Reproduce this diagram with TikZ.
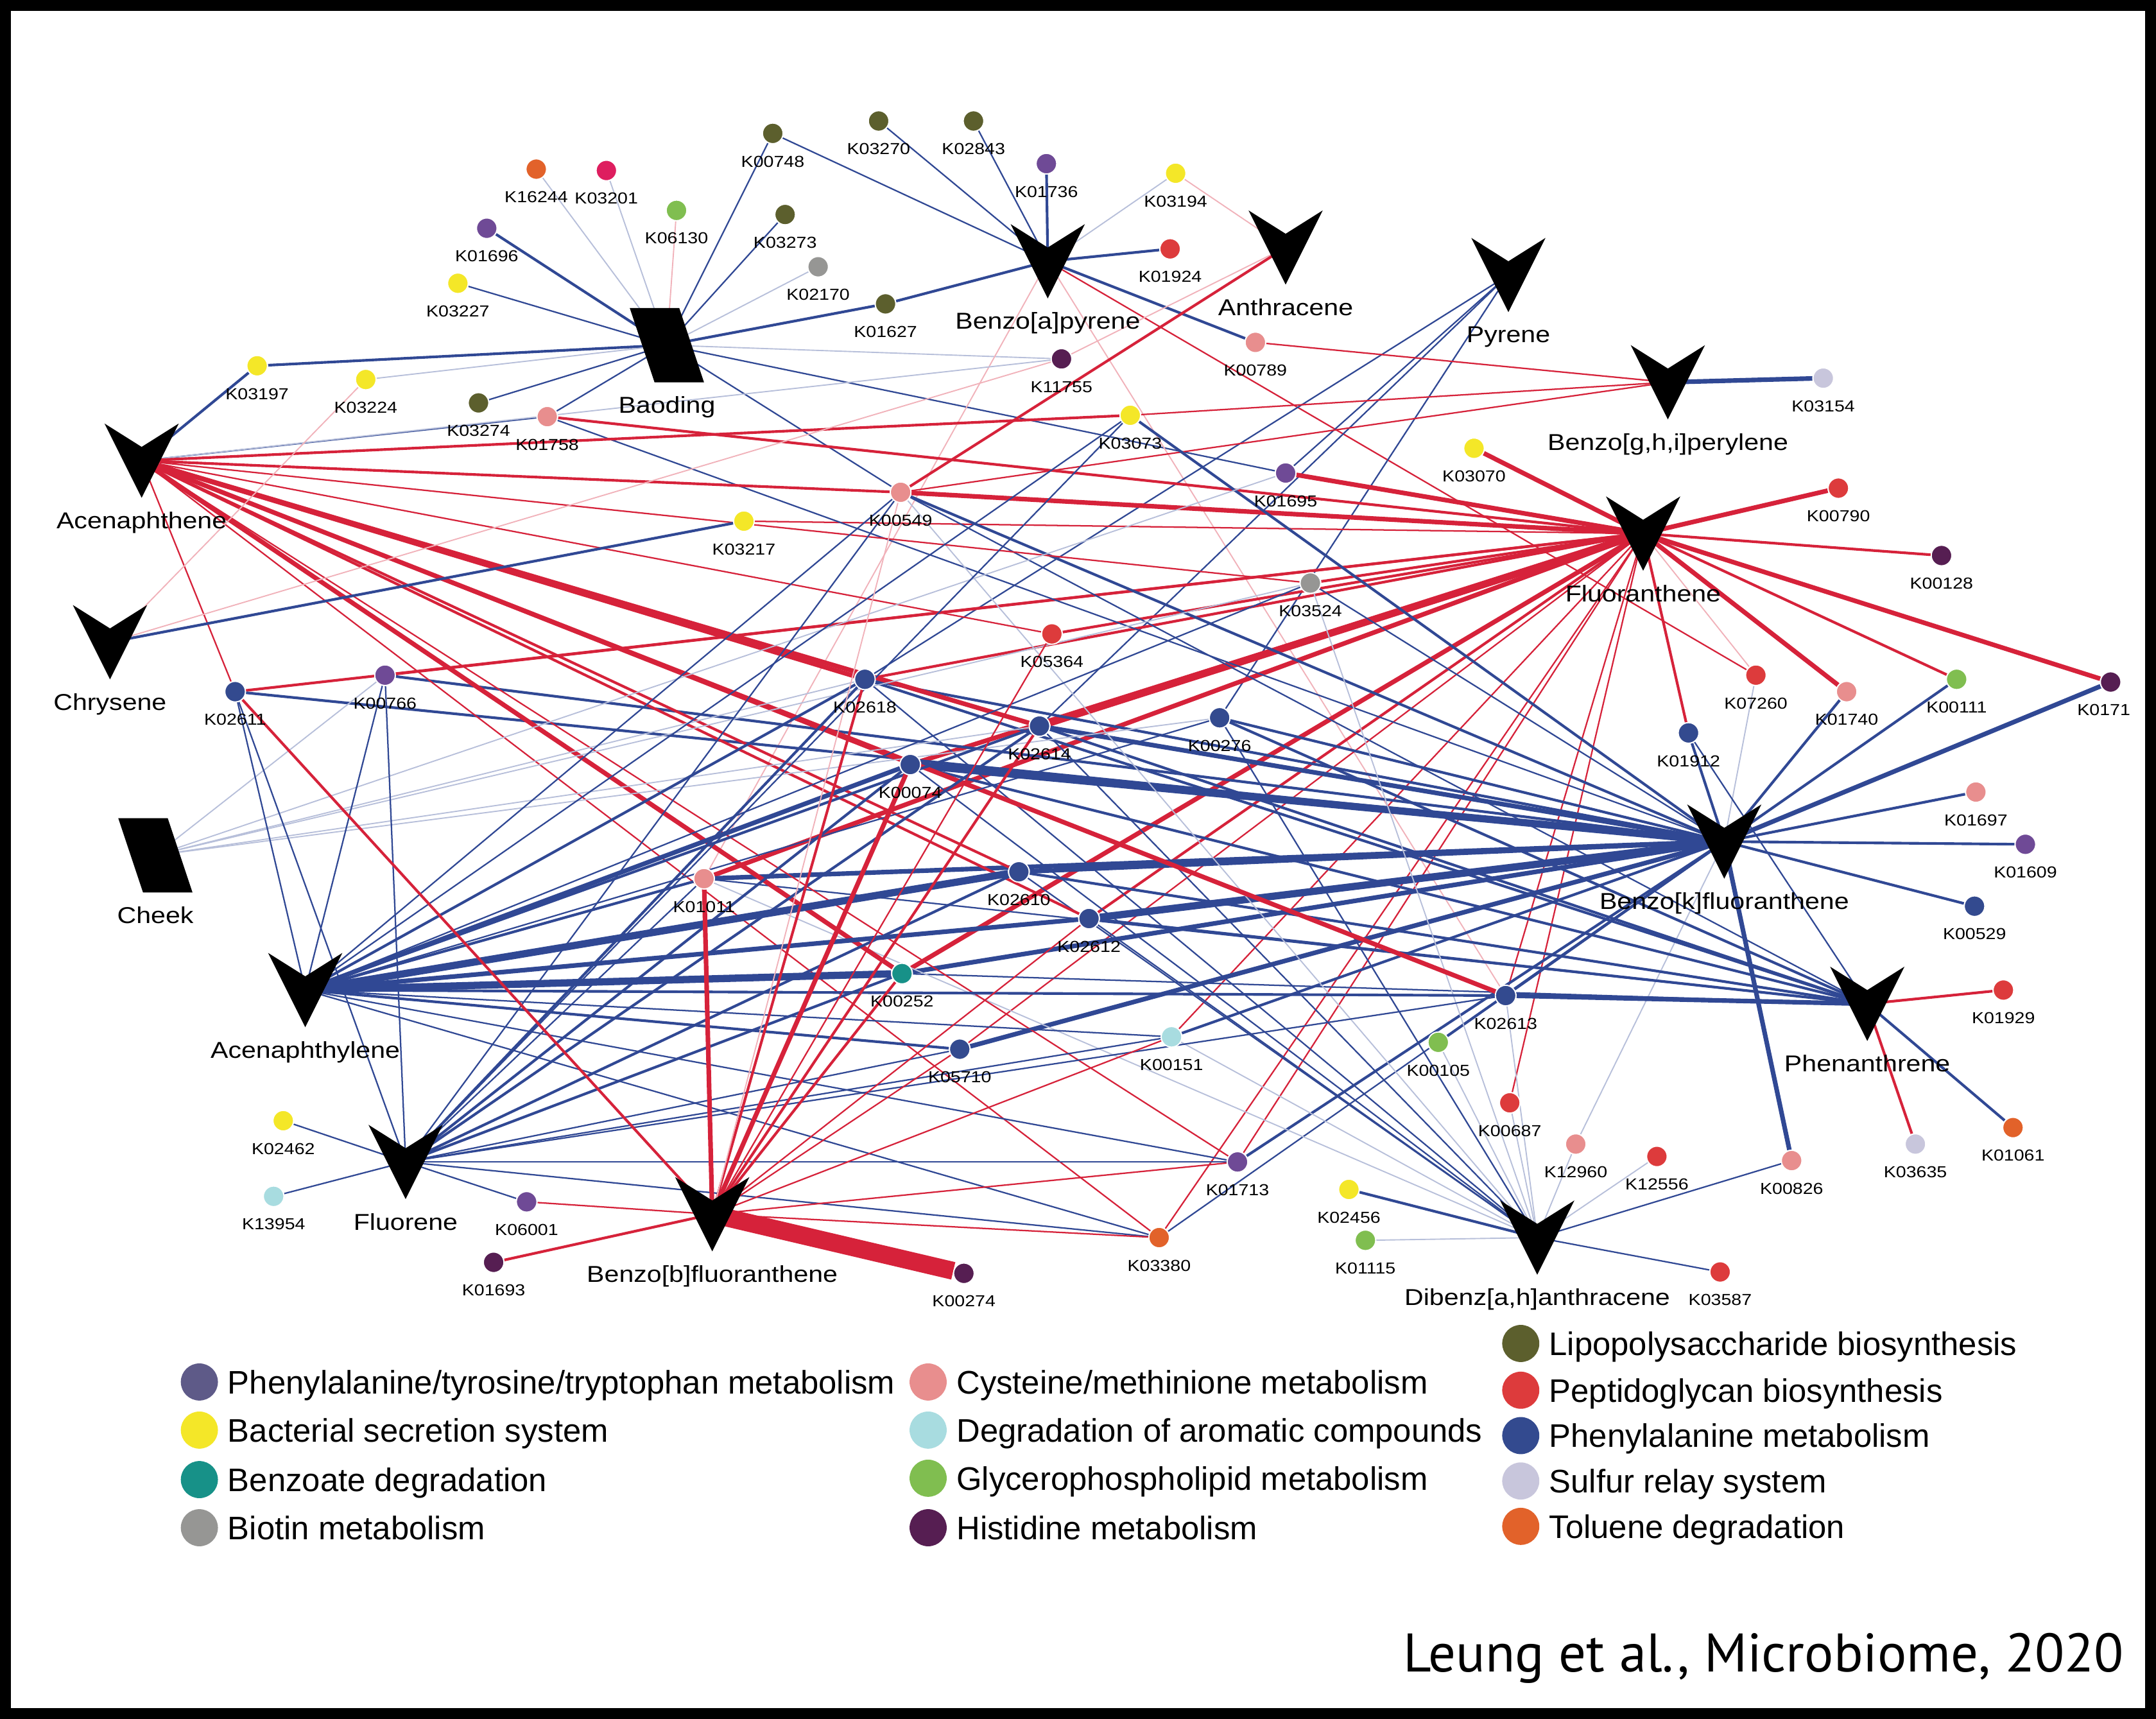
\documentclass[tikz,border=0pt]{standalone}
\usepackage{fontspec}
\setmainfont{Liberation Sans}
\newfontfamily\widefont[FakeStretch=1.15]{Liberation Sans}
\newfontfamily\citefont{PT Sans}
\usetikzlibrary{positioning,calc}
\pgfdeclarelayer{background}
\pgfsetlayers{background,main}

\definecolor{edgered}{RGB}{214,34,58}
\definecolor{edgeblue}{RGB}{48,72,148}
\definecolor{ppcol}{RGB}{111,74,150}
\definecolor{ppleg}{RGB}{94,90,136}
\definecolor{bsscol}{RGB}{244,231,40}
\definecolor{bencol}{RGB}{23,145,136}
\definecolor{biocol}{RGB}{150,150,148}
\definecolor{cyscol}{RGB}{232,142,142}
\definecolor{arocol}{RGB}{168,220,224}
\definecolor{glycol}{RGB}{128,190,80}
\definecolor{hiscol}{RGB}{86,30,82}
\definecolor{lpscol}{RGB}{92,95,45}
\definecolor{pepcol}{RGB}{221,59,60}
\definecolor{phecol}{RGB}{51,74,143}
\definecolor{sulcol}{RGB}{200,198,220}
\definecolor{tolcol}{RGB}{226,98,42}
\definecolor{magcol}{RGB}{222,30,95}

\tikzset{
  ko/.style={circle, fill=#1, draw=white, line width=0.5pt, minimum size=0.3cm, inner sep=0pt},
  klab/.style={font=\widefont\fontsize{6.6}{7}\selectfont, inner sep=0pt, yshift=-0.16cm},
  hublab/.style={font=\widefont\fontsize{9.5}{11}\selectfont, inner sep=0pt},
  legdot/.style={circle, fill=#1, minimum size=0.54cm, inner sep=0pt},
  legtext/.style={font=\fontsize{13.5}{16}\selectfont, inner sep=0pt, text depth=0pt},
  hubmark/.pic={\fill (-27,-27) -- (0,-10) -- (27,-27) -- (0,27) -- cycle;},
  sitemark/.pic={\fill (-27,-27) -- (9,-27) -- (27,27) -- (-9,27) -- cycle;},
  rf/.style={draw=edgered!35, line width=0.5pt},
  rt/.style={draw=edgered, line width=0.6pt},
  rm/.style={draw=edgered, line width=1.1pt},
  rk/.style={draw=edgered, line width=1.9pt},
  rx/.style={draw=edgered, line width=3pt},
  rh/.style={draw=edgered, line width=7.4pt},
  bf/.style={draw=edgeblue!35, line width=0.5pt},
  bt/.style={draw=edgeblue, line width=0.6pt},
  bm/.style={draw=edgeblue, line width=1.1pt},
  bk/.style={draw=edgeblue, line width=1.9pt},
  bx/.style={draw=edgeblue, line width=3pt}
}

\begin{document}
\begin{tikzpicture}[x=0.02cm, y=-0.02cm]
  \useasboundingbox (0,0) rectangle (1568,1250);

  % KO nodes
  \foreach \n/\x/\y/\c/\t in {
    k16244/390/123/tolcol/K16244, k03201/441/124/magcol/K03201, k06130/492/153/glycol/K06130,
    k01696/354/166/ppcol/K01696, k03227/333/206/bsscol/K03227, k00748/562/97/lpscol/K00748,
    k03270/639/88/lpscol/K03270, k02843/708/88/lpscol/K02843, k01736/761/119/ppcol/K01736,
    k03194/855/126/bsscol/K03194, k03273/571/156/lpscol/K03273, k02170/595/194/biocol/K02170,
    k01627/644/221/lpscol/K01627, k01924/851/181/pepcol/K01924, k00789/913/249/cyscol/K00789,
    k11755/772/261/hiscol/K11755, k03197/187/266/bsscol/K03197, k03224/266/276/bsscol/K03224,
    k03274/348/293/lpscol/K03274, k01758/398/303/cyscol/K01758, k03073/822/302/bsscol/K03073,
    k03154/1326/275/sulcol/K03154, k03070/1072/326/bsscol/K03070, k01695/935/344/ppcol/K01695,
    k00549/655/358/cyscol/K00549, k00790/1337/355/pepcol/K00790, k03217/541/379/bsscol/K03217,
    k00128/1412/404/hiscol/K00128, k03524/953/424/biocol/K03524, k05364/765/461/pepcol/K05364,
    k02618/629/494/phecol/K02618, k02611/171/503/phecol/K02611, k00766/280/491/ppcol/K00766,
    k02614/756/528/phecol/K02614, k00276/887/522/phecol/K00276, k00074/662/556/phecol/K00074,
    k07260/1277/491/pepcol/K07260, k01740/1343/503/cyscol/K01740, k00111/1423/494/glycol/K00111,
    k01912/1228/533/phecol/K01912, k01697/1437/576/cyscol/K01697, k01609/1473/614/ppcol/K01609,
    k00529/1436/659/phecol/K00529, k01011/512/639/cyscol/K01011, k02610/741/634/phecol/K02610,
    k02612/792/668/phecol/K02612, k00252/656/708/bencol/K00252, k02613/1095/724/phecol/K02613,
    k01929/1457/720/pepcol/K01929, k05710/698/763/phecol/K05710, k00151/852/754/arocol/K00151,
    k00105/1046/758/glycol/K00105, k00687/1098/802/pepcol/K00687, k12960/1146/832/cyscol/K12960,
    k12556/1205/841/pepcol/K12556, k00826/1303/844/cyscol/K00826, k03635/1393/832/sulcol/K03635,
    k01061/1464/820/tolcol/K01061, k02462/206/815/bsscol/K02462, k13954/199/870/arocol/K13954,
    k06001/383/874/ppcol/K06001, k01693/359/918/hiscol/K01693, k00274/701/926/hiscol/K00274,
    k01713/900/845/ppcol/K01713, k03380/843/900/tolcol/K03380, k02456/981/865/bsscol/K02456,
    k01115/993/902/glycol/K01115, k03587/1251/925/pepcol/K03587}
    \node[ko=\c, label={[klab]below:\t}] (\n) at (\x,\y) {};
  \node[ko=hiscol, label={[klab, xshift=-0.1cm]below:K0171}] (k0171) at (1535,496) {};

  % compounds and sites
  \foreach \n/\x/\y in {bap/762/190, ant/935/180, pyr/1097/200, bghi/1213/278, flu/1195/388,
    acn/103/335, chr/80/467, acy/222/720, fle/295/845, bbf/518/883, bkf/1254/612,
    phn/1358/730, dba/1118/900, bao/485/251, chk/113/622}
    \coordinate (\n) at (\x,\y);
  \foreach \n in {bap,ant,pyr,bghi,flu,acn,chr,acy,fle,bbf,bkf,phn,dba}
    \pic at (\n) {hubmark};
  \pic at (bao) {sitemark};
  \pic at (chk) {sitemark};

  \node[hublab, below=0.74cm of bap] (bapl) {Benzo[a]pyrene};
  \node[hublab, below=0.74cm of ant] (antl) {Anthracene};
  \node[hublab, below=0.74cm of pyr] (pyrl) {Pyrene};
  \node[hublab, below=0.74cm of bghi] (bghil) {Benzo[g,h,i]perylene};
  \node[hublab, below=0.74cm of flu] (flul) {Fluoranthene};
  \node[hublab, below=0.74cm of acn] (acnl) {Acenaphthene};
  \node[hublab, below=0.74cm of chr] (chrl) {Chrysene};
  \node[hublab, below=0.74cm of acy] (acyl) {Acenaphthylene};
  \node[hublab, below=0.74cm of fle] (flel) {Fluorene};
  \node[hublab, below=0.74cm of bbf] (bbfl) {Benzo[b]fluoranthene};
  \node[hublab, below=0.74cm of bkf] (bkfl) {Benzo[k]fluoranthene};
  \node[hublab, below=0.74cm of phn] (phnl) {Phenanthrene};
  \node[hublab, below=0.74cm of dba] (dbal) {Dibenz[a,h]anthracene};
  \node[hublab, below=0.74cm of bao] (baol) {Baoding};
  \node[hublab, below=0.74cm of chk] (chkl) {Cheek};

  % connectors
  \begin{pgfonlayer}{background}
    \fill[white] (0,0) rectangle (1568,1250);
    \foreach \a/\b/\s in {
      bao/k16244/bf, bao/k03201/bf, bao/k06130/rf, bao/k01696/bm, bao/k03227/bt, bao/k00748/bt,
      bao/k03273/bt, bao/k02170/bf, bao/k01627/bm, bao/k03197/bm, bao/k03224/bf, bao/k03274/bt,
      bao/k01758/bt, bao/k11755/bf, bao/k01695/bt, bao/k00549/bt,
      bap/k00748/bt, bap/k03270/bt, bap/k02843/bt, bap/k01736/bm, bap/k03194/bf, bap/k01627/bm,
      bap/k01924/bm, bap/k00789/bm, bap/k01011/rf, bap/k07260/rt, bap/k02613/rf,
      ant/k03194/rf, ant/k11755/rf, ant/k00549/rm,
      pyr/k01695/bt, pyr/k00276/bt, pyr/k02618/bt, pyr/k02614/bt,
      bghi/k03154/bk, bghi/k00789/rt, bghi/k03073/rt, bghi/k00549/rt,
      flu/k03070/rk, flu/k00790/rk, flu/k00128/rm, flu/k0171/rk, flu/k00111/rm, flu/k01740/rk,
      flu/k07260/rf, flu/k01912/rm, flu/k00549/rk, flu/k01695/rk, flu/k01758/rm, flu/k03524/rm,
      flu/k05364/rm, flu/k02614/rx, flu/k00074/rk, flu/k01011/rk, flu/k00252/rk, flu/k00766/rm,
      flu/k02618/rm, flu/k02613/rt, flu/k00687/rt, flu/k01713/rt, flu/k03380/rt, flu/k05710/rt,
      flu/k02612/rm, flu/k00151/rt, flu/k02611/rm, flu/k03217/rt,
      bkf/k01912/bm, bkf/k07260/bf, bkf/k01740/bm, bkf/k00111/bm, bkf/k0171/bk, bkf/k01697/bm,
      bkf/k01609/bm, bkf/k00529/bm, bkf/k00826/bk, bkf/k02613/bm, bkf/k00105/bm, bkf/k01713/bm,
      bkf/k03380/bt, bkf/k12960/bf, bkf/k00074/bx, bkf/k02614/bk, bkf/k02610/bk, bkf/k02612/bx,
      bkf/k00252/bk, bkf/k01011/bk, bkf/k02618/bm, bkf/k00549/bm, bkf/k03073/bm, bkf/k01758/bt,
      bkf/k05710/bk, bkf/k00276/bm, bkf/k03524/bt, bkf/k00766/bm, bkf/k02611/bm, bkf/k00151/bm,
      phn/k01929/rm, phn/k03635/rm, phn/k01061/bm, phn/k02613/bk, phn/k02612/bm, phn/k00074/bm,
      phn/k02614/bm, phn/k02618/bm, phn/k00276/bm, phn/k01011/bt, phn/k02610/bm, phn/k00252/bt,
      phn/k00549/bt, phn/k01912/bt,
      dba/k02456/bm, dba/k01115/bf, dba/k03587/bt, dba/k00826/bt, dba/k12556/bf, dba/k12960/bf,
      dba/k00687/bf, dba/k00105/bf, dba/k02613/bf, dba/k00151/bf, dba/k02618/bt, dba/k02614/bt,
      dba/k00074/bt, dba/k02610/bt, dba/k02612/bt, dba/k00276/bt, dba/k00549/bf, dba/k03524/bf,
      dba/k01011/bf,
      acn/k03197/bm, acn/k01758/bt, acn/k11755/bf, acn/k03073/rm, acn/k00549/rm, acn/k02618/rk,
      acn/k02614/rk, acn/k00074/rm, acn/k02613/rk, acn/k02610/rm, acn/k02612/rm, acn/k00252/rk,
      acn/k03380/rt, acn/k01713/rt, acn/k02611/rt, acn/k05364/rt, acn/k03524/rt,
      chr/k03217/bm, chr/k03224/rf, chr/k11755/rf,
      chk/k00766/bf, chk/k02618/bf, chk/k02614/bf, chk/k03524/bf, chk/k01695/bf, chk/k00276/bf,
      acy/k02611/bt, acy/k00766/bt, acy/k00074/bk, acy/k02614/bm, acy/k02618/bm, acy/k02610/bx,
      acy/k02612/bk, acy/k00252/bx, acy/k01011/bm, acy/k05710/bm, acy/k00151/bt, acy/k02613/bm,
      acy/k03380/bt, acy/k01713/bt, acy/k00549/bt, acy/k03073/bt, acy/k00276/bt, acy/k03524/bt,
      fle/k02462/bt, fle/k13954/bt, fle/k06001/bt, fle/k02611/bt, fle/k00766/bt, fle/k00074/bm,
      fle/k02614/bm, fle/k02618/bm, fle/k02610/bm, fle/k00252/bm, fle/k01011/bt, fle/k05710/bt,
      fle/k01713/bt, fle/k03380/bt, fle/k02613/bt, fle/k00549/bt, fle/k03073/bt, fle/k00151/bt,
      bbf/k00274/rh, bbf/k01693/rm, bbf/k06001/rt, bbf/k01011/rk, bbf/k00074/rk, bbf/k02618/rm,
      bbf/k02614/rm, bbf/k05364/rt, bbf/k02611/rm, bbf/k00252/rm, bbf/k02612/rt, bbf/k00151/rt,
      bbf/k01713/rt, bbf/k03380/rt, bbf/k05710/rt, bbf/k00549/rf}
      \draw[\s] (\a) -- (\b);
  \end{pgfonlayer}

  % legend
  \foreach \c/\t/\x/\y [count=\i] in {
    ppleg/{Phenylalanine/tyrosine/tryptophan metabolism}/145/1005,
    bsscol/{Bacterial secretion system}/145/1040,
    bencol/{Benzoate degradation}/145/1076,
    biocol/{Biotin metabolism}/145/1111,
    cyscol/{Cysteine/methinione metabolism}/675/1005,
    arocol/{Degradation of aromatic compounds}/675/1040,
    glycol/{Glycerophospholipid metabolism}/675/1075,
    hiscol/{Histidine metabolism}/675/1111,
    lpscol/{Lipopolysaccharide biosynthesis}/1106/977,
    pepcol/{Peptidoglycan biosynthesis}/1106/1011,
    phecol/{Phenylalanine metabolism}/1106/1044,
    sulcol/{Sulfur relay system}/1106/1077,
    tolcol/{Toluene degradation}/1106/1110}
  {
    \node[legdot=\c] (dot\i) at (\x,\y) {};
    \node[legtext, right=0.13cm of dot\i] (leg\i) {\t};
  }

  \node[font=\citefont\fontsize{22.5}{26}\selectfont, anchor=base east, inner sep=0pt] (cite) at (1545,1216) {Leung et al., Microbiome, 2020};

  % frame
  \draw[line width=0.16cm] (4,4) rectangle (1564,1246);
\end{tikzpicture}
\end{document}
